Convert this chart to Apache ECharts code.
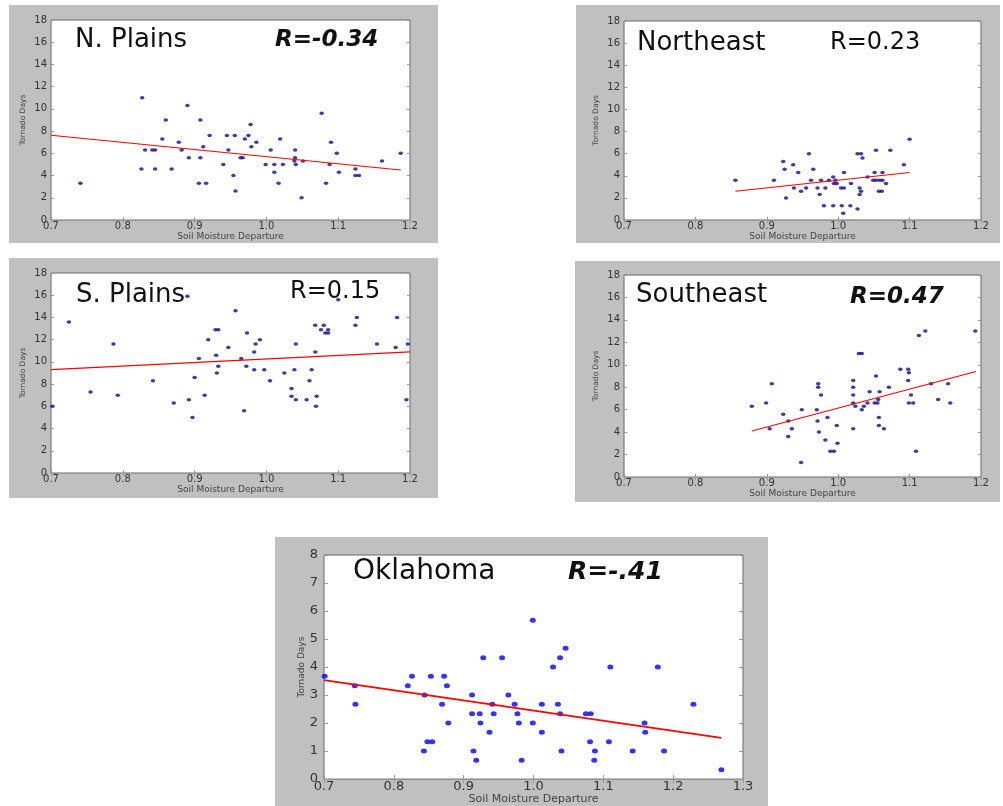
<!DOCTYPE html>
<html>
<head>
<meta charset="utf-8">
<title>Tornado Days vs Soil Moisture Departure</title>
<script src="https://cdn.jsdelivr.net/npm/echarts@6/dist/echarts.min.js"></script>
<style>
  html, body { margin: 0; padding: 0; background: #fff; }
  #chart { width: 1003px; height: 806px; }
</style>
</head>
<body>
<div id="chart"></div>
<script>
// points are [soil moisture departure, tornado days]
const nPlains = [
  [0.741, 3.3], [0.827, 11.0], [0.826, 4.6], [0.831, 6.3], [0.841, 6.3], [0.845, 6.3], [0.845, 4.6],
  [0.855, 7.3], [0.860, 9.0], [0.868, 4.6], [0.878, 7.0], [0.882, 6.3], [0.890, 10.3], [0.892, 5.6],
  [0.906, 3.3], [0.908, 9.0], [0.908, 5.6], [0.912, 6.6], [0.916, 3.3], [0.921, 7.6], [0.940, 5.0],
  [0.945, 7.6], [0.947, 6.3], [0.954, 4.0], [0.956, 7.6], [0.957, 2.6], [0.964, 5.6], [0.967, 5.6],
  [0.970, 7.3], [0.975, 7.6], [0.978, 8.6], [0.979, 6.6], [0.986, 7.0], [0.999, 5.0], [1.006, 6.3],
  [1.011, 5.0], [1.011, 4.3], [1.017, 3.3], [1.019, 7.3], [1.023, 5.0], [1.040, 6.3], [1.040, 5.6],
  [1.039, 5.3], [1.041, 5.0], [1.051, 5.3], [1.049, 2.0], [1.077, 9.6], [1.083, 3.3], [1.088, 5.0],
  [1.090, 7.0], [1.098, 6.0], [1.101, 4.3], [1.124, 4.6], [1.124, 4.0], [1.129, 4.0], [1.161, 5.3],
  [1.187, 6.0]
]
const nPlainsFit = [[0.70, 7.63], [1.187, 4.50]]

const northeast = [
  [0.856, 3.6], [0.910, 3.6], [0.923, 5.3], [0.925, 4.6], [0.927, 2.0], [0.937, 5.0], [0.938, 2.9],
  [0.944, 4.3], [0.948, 2.6], [0.955, 2.9], [0.959, 6.0], [0.962, 3.6], [0.965, 4.6], [0.971, 2.9],
  [0.974, 2.3], [0.976, 3.6], [0.982, 2.9], [0.980, 1.3], [0.987, 3.6], [0.993, 3.9], [0.993, 1.3],
  [0.994, 3.3], [0.998, 3.3], [0.996, 3.6], [1.004, 2.9], [1.008, 2.9], [1.005, 1.3], [1.007, 0.6],
  [1.008, 4.3], [1.017, 1.3], [1.018, 3.3], [1.027, 1.0], [1.027, 6.0], [1.032, 6.0], [1.034, 5.6],
  [1.030, 2.9], [1.032, 2.6], [1.030, 2.3], [1.041, 3.9], [1.051, 4.3], [1.049, 3.6], [1.053, 3.6],
  [1.058, 3.6], [1.062, 3.6], [1.053, 6.3], [1.057, 2.6], [1.061, 2.6], [1.062, 4.3], [1.067, 3.3],
  [1.073, 6.3], [1.092, 5.0], [1.100, 7.3]
]
const northeastFit = [[0.856, 2.6], [1.100, 4.3]]

const sPlains = [
  [0.702, 6.0], [0.725, 13.6], [0.755, 7.3], [0.787, 11.6], [0.793, 7.0], [0.842, 8.3], [0.871, 6.3],
  [0.890, 15.9], [0.892, 6.6], [0.897, 5.0], [0.900, 8.6], [0.906, 10.3], [0.914, 7.0], [0.919, 12.0],
  [0.929, 12.9], [0.933, 12.9], [0.930, 10.6], [0.933, 9.6], [0.931, 9.0], [0.947, 11.3], [0.957, 14.6],
  [0.965, 10.3], [0.973, 12.6], [0.972, 9.6], [0.969, 5.6], [0.983, 10.9], [0.985, 11.6], [0.991, 12.0],
  [0.983, 9.3], [0.997, 9.3], [1.005, 8.3], [1.025, 9.0], [1.039, 9.3], [1.035, 7.6], [1.035, 6.9],
  [1.041, 11.6], [1.041, 6.6], [1.056, 6.6], [1.060, 8.3], [1.063, 9.3], [1.068, 13.3], [1.068, 10.9],
  [1.070, 6.9], [1.069, 6.0], [1.076, 12.9], [1.080, 13.3], [1.086, 12.9], [1.082, 12.6], [1.086, 12.6],
  [1.100, 15.6], [1.124, 13.3], [1.126, 14.0], [1.154, 11.6], [1.182, 14.0], [1.180, 11.3], [1.195, 6.6],
  [1.197, 11.6]
]
const sPlainsFit = [[0.70, 9.3], [1.20, 10.9]]

const southeast = [
  [0.879, 6.3], [0.899, 6.6], [0.907, 8.3], [0.904, 4.3], [0.923, 5.6], [0.930, 5.0], [0.930, 3.6],
  [0.935, 4.3], [0.948, 1.3], [0.949, 6.0], [0.970, 6.0], [0.972, 8.3], [0.972, 8.0], [0.976, 7.3],
  [0.971, 5.0], [0.973, 4.0], [0.982, 3.3], [0.985, 5.3], [0.989, 2.3], [0.994, 2.3], [0.999, 3.0],
  [0.998, 4.6], [1.021, 8.6], [1.021, 8.0], [1.021, 7.3], [1.021, 6.6], [1.021, 4.3], [1.024, 6.3],
  [1.029, 11.0], [1.033, 11.0], [1.033, 6.0], [1.036, 6.3], [1.041, 6.6], [1.044, 7.6], [1.051, 6.6],
  [1.055, 6.6], [1.053, 9.0], [1.056, 6.9], [1.058, 7.6], [1.057, 5.3], [1.057, 4.6], [1.064, 4.3],
  [1.071, 8.0], [1.087, 9.6], [1.098, 9.6], [1.099, 9.3], [1.098, 8.6], [1.102, 7.3], [1.099, 6.6],
  [1.105, 6.6], [1.109, 2.3], [1.113, 12.6], [1.122, 13.0], [1.130, 8.3], [1.140, 6.9], [1.154, 8.3],
  [1.157, 6.6], [1.192, 13.0]
]
const southeastFit = [[0.879, 4.1], [1.193, 9.4]]

const oklahoma = [
  [0.701, 3.67], [0.744, 3.33], [0.745, 2.67], [0.820, 3.33], [0.826, 3.67], [0.843, 1.0], [0.844, 3.0],
  [0.848, 1.33], [0.853, 3.67], [0.855, 1.33], [0.869, 2.67], [0.872, 3.67], [0.876, 3.33], [0.878, 2.0],
  [0.912, 3.0], [0.912, 2.33], [0.914, 1.0], [0.918, 0.67], [0.923, 2.33], [0.924, 2.0], [0.928, 4.33],
  [0.937, 1.67], [0.941, 2.67], [0.943, 2.33], [0.955, 4.33], [0.964, 3.0], [0.973, 2.67], [0.977, 2.33],
  [0.979, 2.0], [0.983, 0.67], [0.999, 5.67], [0.999, 2.0], [1.012, 2.67], [1.012, 1.67], [1.028, 4.0],
  [1.035, 2.67], [1.038, 4.33], [1.038, 2.33], [1.040, 1.0], [1.046, 4.67], [1.075, 2.33], [1.082, 2.33],
  [1.081, 1.33], [1.088, 1.0], [1.087, 0.67], [1.108, 1.33], [1.110, 4.0], [1.142, 1.0], [1.159, 2.0],
  [1.160, 1.67], [1.178, 4.0], [1.187, 1.0], [1.229, 2.67], [1.269, 0.33]
]
const oklahomaFit = [[0.70, 3.53], [1.269, 1.47]]

const regionNames = ['N. Plains', 'Northeast', 'S. Plains', 'Southeast', 'Oklahoma']
const rLabels = ['R=-0.34', 'R=0.23', 'R=0.15', 'R=0.47', 'R=-.41']
const rBold = [true, false, false, true, true]
const xMax = [1.2, 1.2, 1.2, 1.2, 1.3]
const yMax = [18, 18, 18, 18, 8]
const yStep = [2, 2, 2, 2, 1]
const allPoints = [nPlains, northeast, sPlains, southeast, oklahoma]
const allFits = [nPlainsFit, northeastFit, sPlainsFit, southeastFit, oklahomaFit]

// where each panel sits on the page (gray box, plot area, title and R positions)
const layout = [
  { box: [9, 5, 429, 238], grid: [51, 20, 359, 200], title: [75, 40], r: [275, 40], big: false },
  { box: [576, 5, 424, 238], grid: [624, 21, 357, 199], title: [637, 43], r: [830, 43], big: false },
  { box: [9, 258, 429, 240], grid: [51, 273, 359, 200], title: [76, 295], r: [290, 292], big: false },
  { box: [575, 261, 425, 241], grid: [624, 275, 357, 202], title: [636, 295], r: [850, 297], big: false },
  { box: [275, 537, 493, 269], grid: [324, 555, 419, 227], title: [353, 572], r: [568, 572], big: true }
]

const FONT = '"DejaVu Sans", sans-serif'

const chart = echarts.init(document.getElementById('chart'))

const grids = []
const xAxes = []
const yAxes = []
const series = []
const graphics = []

layout.forEach((p, i) => {
  const big = p.big
  grids.push({
    left: p.grid[0], top: p.grid[1], width: p.grid[2], height: p.grid[3],
    show: true, backgroundColor: '#fff', borderColor: '#6a6a6a', borderWidth: 1
  })

  const tick = { show: true, inside: true, length: big ? 4 : 3, lineStyle: { color: '#999' } }
  const xBase = { gridIndex: i, type: 'value', min: 0.7, max: xMax[i], interval: 0.1,
    splitLine: { show: false }, axisLine: { show: false }, axisTick: tick }
  const yBase = { gridIndex: i, type: 'value', min: 0, max: yMax[i], interval: yStep[i],
    splitLine: { show: false }, axisLine: { show: false }, axisTick: tick }

  xAxes.push(Object.assign({}, xBase, {
    position: 'bottom',
    name: 'Soil Moisture Departure', nameLocation: 'middle', nameGap: big ? 13 : 11,
    nameTextStyle: { fontFamily: FONT, fontSize: big ? 11 : 9, color: '#444' },
    axisLabel: { fontFamily: FONT, fontSize: big ? 13 : 10, color: '#333', margin: 1,
      formatter: v => v.toFixed(1) }
  }))
  xAxes.push(Object.assign({}, xBase, { position: 'top', axisLabel: { show: false } }))

  yAxes.push(Object.assign({}, yBase, {
    position: 'left',
    name: 'Tornado Days', nameLocation: 'middle', nameGap: big ? 17 : 24,
    nameTextStyle: { fontFamily: FONT, fontSize: big ? 9 : 7.5, color: '#444' },
    axisLabel: { fontFamily: FONT, fontSize: big ? 13 : 10, color: '#333', margin: big ? 6 : 4 }
  }))
  yAxes.push(Object.assign({}, yBase, { position: 'right', axisLabel: { show: false } }))

  series.push({
    type: 'scatter', xAxisIndex: 2 * i, yAxisIndex: 2 * i,
    data: allPoints[i],
    symbol: 'circle', symbolSize: big ? [6, 5] : [4.5, 3.5],
    itemStyle: { color: big ? '#0000ff' : '#0c0c8c' },
    silent: true
  })
  series.push({
    type: 'line', xAxisIndex: 2 * i, yAxisIndex: 2 * i,
    data: allFits[i], symbol: 'none', silent: true,
    lineStyle: { color: '#ff0000', width: big ? 1.8 : 1.1 }
  })

  graphics.push({
    type: 'rect', z: -10, silent: true,
    shape: { x: p.box[0], y: p.box[1], width: p.box[2], height: p.box[3] },
    style: { fill: '#c0c0c0' }
  })
  graphics.push({
    type: 'text', z: 10, x: p.title[0], y: p.title[1], silent: true,
    style: { text: regionNames[i], fill: '#111', font: (big ? 28 : 26) + 'px ' + FONT,
      textAlign: 'left', verticalAlign: 'middle', textVerticalAlign: 'middle' }
  })
  graphics.push({
    type: 'text', z: 10, x: p.r[0], y: p.r[1], silent: true,
    style: { text: rLabels[i], fill: '#111',
      font: (rBold[i] ? 'italic bold ' : '') + (big ? 25 : rBold[i] ? 23 : 24) + 'px ' + FONT,
      textAlign: 'left', verticalAlign: 'middle', textVerticalAlign: 'middle' }
  })
})

chart.setOption({
  animation: false,
  backgroundColor: '#fff',
  grid: grids,
  xAxis: xAxes,
  yAxis: yAxes,
  series: series,
  graphic: { elements: graphics }
})
</script>
</body>
</html>
